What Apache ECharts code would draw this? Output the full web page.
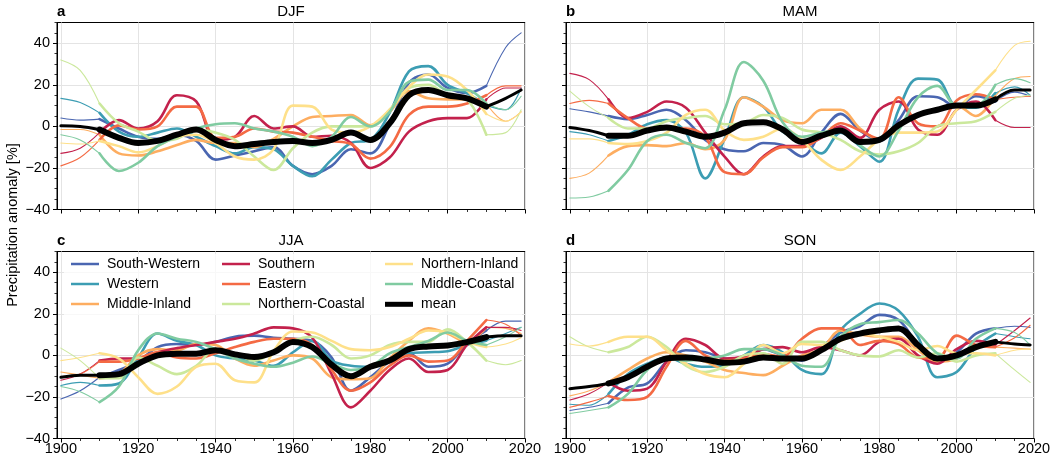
<!DOCTYPE html>
<html>
<head>
<meta charset="utf-8">
<script src="https://cdn.jsdelivr.net/npm/echarts@6/dist/echarts.min.js"></script>
<style>
html,body{margin:0;padding:0;background:#fff;}
#chart{width:1061px;height:464px;}
</style>
</head>
<body>
<div id="chart"></div>
<script>
// ---------- data ----------
const YEARS = [1900,1905,1910,1915,1920,1925,1930,1935,1940,1945,1950,1955,1960,1965,1970,1975,1980,1985,1990,1995,2000,2005,2010,2015,2019];
const X_MAJOR = [1900,1920,1940,1960,1980,2000,2020];
const X_MINOR = [1905,1910,1915,1925,1930,1935,1945,1950,1955,1965,1970,1975,1985,1990,1995,2005,2010,2015];
const Y_MAJOR = [-40,-20,0,20,40];
const Y_MINOR = [-35,-30,-25,-15,-10,-5,5,10,15,25,30,35,45,50];
const REGIONS = ['South-Western','Western','Middle-Inland','Southern','Eastern','Northern-Coastal','Northern-Inland','Middle-Coastal'];
const COLORS = ['#4a66b1','#3c9db3','#fdad60','#c3214c','#f46a44','#cbe89c','#fee08a','#80cba1'];
const SEASONS = ['DJF','MAM','JJA','SON'];
const LETTERS = ['a','b','c','d'];

// DJF
const DJF_SW = [4,3,3.5,-1,-5,-6,-4,-7,-16,-14,-12,-10,-19,-23,-19,-11,-13,1,21,25,18.5,16,19.5,38,45];
const DJF_W  = [13.5,11.5,6.5,-2.5,-5,-3,-1,-5,-9.5,-13,-10,-11,-19,-24,-16,-8,-6.5,6.5,26.5,29,20,16,10,8,18.5];
const DJF_MI = [-1.5,-1.5,-4,-13,-14,-12,-9,-6.5,-8,-8,-10,-6,0,4.5,5,5.5,0.5,7,17,13.5,13,13,11,2.5,7];
const DJF_S  = [-13,-10.5,-3,3,-1,2.5,15,12,-6.5,-5,5,-1,0,-5,-4.5,-8,-20,-15,-2.5,2.5,4,4,13,18.5,18.5];
const DJF_E  = [-19,-15,-6.5,0.5,-1.5,0,9.5,9.5,-5.5,-5,-1,-2.5,-3,-5,-7,-8.5,-15.5,-10,5.5,9.5,9.5,11,15,19.5,19.5];
const DJF_NC = [32,27,11,1.5,-2.5,-7,-6,-1.5,-3,-6.5,-14.5,-21,-10.5,-3,0,0,0,8,18.5,20,15,13,-4,-3,8];
const DJF_NI = [-8,-8.5,-7,-9.5,-12.5,-9.5,-5,-4,-8,-14.5,-16,-11,10,9.5,-1.5,-3,0,8,19,25,24,17.5,6,2.5,7];
const DJF_MC = [-4,-6.5,-13,-21.5,-17.5,-9.5,-5,-1,1,1.5,-1,-2.5,-5,-9.5,-5,4.5,0,7,21.5,22.5,17.5,17.5,11,8,14.5];
const DJF_MEAN = [0.3,0,-1.5,-5.5,-8,-7,-4,-1.5,-6.5,-9.5,-8.5,-7.5,-7,-8,-6.5,-3,-6.5,1.5,15,17.5,15,13.5,9.5,13.5,17.5];

// MAM
const MAM_SW = [8.5,7,5,3.5,5.5,8,3,-6.5,-11,-12,-8,-9,-14.5,-3,6,-2,-7,3,14.5,14,9.5,14.5,12,16.5,14.5];
const MAM_W  = [-2.5,-4,-7,-4,1,3,-3,-25,-6,14,9.5,-2.5,-7,-13,-3,-9.5,-17,8,23,22.5,9.5,9,16,19,15];
const MAM_MI = [-25,-22.5,-14,-9.5,-9,-9.5,-8,-11,-6.5,14,9.5,3,1.5,8,8,-1,-6.5,1,5,8,10,5,14.5,23,24];
const MAM_S  = [25.5,22.5,13,4,7,12,9,-3,-14.5,-23,-14.5,-9.5,-9.5,-5.5,0,-5.5,8,12,-1.5,-4,8,12,3,-0.5,-0.5];
const MAM_E  = [11,12.5,11,4,-1,-1,-1,-5,-22,-23,-15,-10,-10,-5,1.5,-2,-6,14,1.5,0,12.5,15.5,13,14,14.5];
const MAM_NC = [17,9.5,4,-1,-1,2.5,4,5,1,1.5,5.5,4,-1.5,-3,-6.5,-12,-13.5,-12,-8,0,1.5,2.5,7,13.5,15];
const MAM_NI = [-6,-6,-8,-8.5,-7,-3,5.5,8,-2,-6.5,-5,-1,-6.5,-16,-21,-14.5,-6.5,-3,-3,-2.5,8,17.5,27,39,41];
const MAM_MC = [-34.5,-34,-31,-21,-7,-4,-8,-10.5,8,31,22,2,-5,-3,-1.5,-9,-14.5,-2,14,19.5,10,10,20,23,21];
const MAM_MEAN = [-0.5,-2,-4.5,-4.5,-2,-0.5,-2.5,-5,-3,1.5,2,-1.5,-7.5,-4.5,-2,-7.5,-6.5,0.5,5.5,8,10,10,13,17.5,17.5];

// JJA
const JJA_SW = [-21,-17,-10.5,-7,-3,4,5.5,5,6.5,9,9.5,8.5,8,7,-1,-17,-10.5,-3,1,-5.5,-4,5.5,12,16.5,16.5];
const JJA_W  = [-14.5,-13,-14.5,-13.5,-1,10.5,7,5,0,-1.5,-2.5,-5,1.5,7,-2.5,-5,-5.5,-2.5,1,1.5,2,5,7,10.5,13.5];
const JJA_MI = [-8,-9.5,-11,-9,0,3,2.5,5.5,5,-1.5,-5,-2.5,0,-1.5,-10.5,-11.5,-11,-1.5,7,13,10.5,6.5,13.5,13,10.5];
const JJA_S  = [-12,-9,-2.5,-1.5,-1.5,1.5,3.5,5,6.5,8,10.5,13.5,13,8.5,-9,-25,-17,-7,-1.5,-8,-7,5,13.5,13.5,12];
const JJA_E  = [-10.5,-9,-3,-3,-1.5,1.5,-1,-1.5,1,4,6.5,8,8,5,-7,-17,-13,-5,0,-3,-2.5,7,17,15,9.5];
const JJA_NC = [3.5,-2.5,-11,-11,-1,-5,-9,-5,3,1,-2.5,1.5,7,9,5,-1.5,0,5,6.5,6.5,12.5,6.5,-2.5,-4.5,-2.5];
const JJA_NI = [-2.5,-1,1,-1.5,-10.5,-18.5,-15,-5.5,-4,-12,-13,2,11.5,11,7,3,2.5,4,8,12,11,6.5,4,5.5,8.5];
const JJA_MC = [-15,-17.5,-22.5,-15,2.5,10.5,8,6.5,3,-1.5,-4,-5.5,-3.5,-0.5,-4,-7,-5.5,1,4,7,11,7,5,9,13.5];
const JJA_MEAN = [-10.5,-9.5,-9.5,-9,-4,0,0.8,0.8,2.5,0.5,-0.8,1.5,6.5,4,-4.5,-10,-5.5,-2.5,3,4.3,4.8,6.4,8.8,9.5,9.5];

// SON
const SON_SW = [-26.5,-25,-23,-15.5,-13.5,-3,2.5,1.5,-1.5,-2.5,3,0,-2.5,4,11,14,19.5,17,5.5,-2.5,1.5,10.5,13,14,13.5];
const SON_W  = [-23.5,-24,-18.5,-9,-4,-1,-4,-5.5,-5,0,5,1.5,-7,-9,12,20,25,21.5,9,-10.5,-8,4,10.5,9,8];
const SON_MI = [-19.5,-17,-13,-7,-1.5,1.5,0,-3,-7,-8.5,-9.5,-5,0,3,12,10,9,9,2.5,-3,-1.5,5,4,3.5,3];
const SON_S  = [-21.5,-18.5,-13,-17,-16,-3,8,5,-1.5,-0.5,3,4,1.5,4,2.5,0,6.5,8,0,-4,3,7,5,12,18];
const SON_E  = [-25,-22.5,-19.5,-21.5,-20,-5.5,7,0,-2.5,-1.5,0.5,-0.5,8,13,13,5,7,5.5,-1,-1.5,9.5,5,4,8.5,14.5];
const SON_NC = [9,4,1.5,4,9,4,-5,-8,-5.5,0,1,-4,6.5,6.5,2.5,0,-0.5,2.5,-1,1,-3,0,1,-7,-13];
const SON_NI = [5.5,4.5,6.5,9,9,2.5,-4,-9,-10.5,-4,5,1,5.5,5,7,10.5,9,6.5,2.5,4.5,1,1,0,2.5,3];
const SON_MC = [-28,-26.5,-25,-18.5,-7,-1.5,-2.5,-1.5,0,3,3,0,-5,-5.5,9,15,16,17,10.5,1,-1.5,8,13,11,5];
const SON_MEAN = [-16,-15,-13.5,-10.5,-5.5,-1.5,-1,-2,-3.5,-3,-1,-1.5,-1.5,2.5,8,10.5,12,13,5,-1.5,0,4,6.5,5.5,5];

const PANEL_REGIONS = [
  [DJF_SW,DJF_W,DJF_MI,DJF_S,DJF_E,DJF_NC,DJF_NI,DJF_MC],
  [MAM_SW,MAM_W,MAM_MI,MAM_S,MAM_E,MAM_NC,MAM_NI,MAM_MC],
  [JJA_SW,JJA_W,JJA_MI,JJA_S,JJA_E,JJA_NC,JJA_NI,JJA_MC],
  [SON_SW,SON_W,SON_MI,SON_S,SON_E,SON_NC,SON_NI,SON_MC]
];
const PANEL_MEANS = [DJF_MEAN, MAM_MEAN, JJA_MEAN, SON_MEAN];

// ---------- layout ----------
const FONT = 'Liberation Sans, Arial, Helvetica, sans-serif';
const GRID_POS = [
  {left:57, top:22.5}, {left:566, top:22.5},
  {left:57, top:251.5}, {left:566, top:251.5}
];
const GW = 468, GH = 187;
const EDGE_LO = 1910, EDGE_HI = 2010;

function minus(v){ return String(v).replace('-', '\u2212'); }
function plain(v){ return String(v); }

const grids = [], xAxes = [], yAxes = [], series = [];
GRID_POS.forEach((g, i) => {
  grids.push({left:g.left, top:g.top, width:GW, height:GH, show:true,
    borderColor:'#000', borderWidth:1, backgroundColor:'transparent', containLabel:false});
  const bottomRow = i >= 2, leftCol = i % 2 === 0;
  xAxes.push({gridIndex:i, type:'value', min:1899, max:2020, position:'bottom',
    axisLine:{show:true, onZero:false, lineStyle:{color:'#000', width:1}},
    axisTick:{show:true, length:4, customValues:X_MAJOR, lineStyle:{color:'#000', width:1}},
    axisLabel:{show:bottomRow, customValues:X_MAJOR, fontSize:14.5, color:'#000', fontFamily:FONT, margin:3, formatter:plain},
    splitLine:{show:true, lineStyle:{color:'#e4e4e4', width:1}}});
  xAxes.push({gridIndex:i, type:'value', min:1899, max:2020, position:'bottom',
    axisLine:{show:false, onZero:false},
    axisTick:{show:true, length:2.5, customValues:X_MINOR, lineStyle:{color:'#000', width:0.8}},
    axisLabel:{show:false}, splitLine:{show:false}});
  yAxes.push({gridIndex:i, type:'value', min:-40, max:50, position:'left',
    axisLine:{show:true, onZero:false, lineStyle:{color:'#000', width:1}},
    axisTick:{show:true, length:4, customValues:Y_MAJOR, lineStyle:{color:'#000', width:1}},
    axisLabel:{show:leftCol, customValues:Y_MAJOR, fontSize:14.5, color:'#000', fontFamily:FONT, margin:7, formatter:minus},
    splitLine:{show:true, lineStyle:{color:'#e4e4e4', width:1}}});
  yAxes.push({gridIndex:i, type:'value', min:-40, max:50, position:'left',
    axisLine:{show:false, onZero:false},
    axisTick:{show:true, length:2.5, customValues:Y_MINOR, lineStyle:{color:'#000', width:0.8}},
    axisLabel:{show:false}, splitLine:{show:false}});

  const addSeries = (name, vals, color, thinW, thickW, z) => {
    const thin = YEARS.map((y, k) => [y, (y <= EDGE_LO || y >= EDGE_HI) ? vals[k] : null]);
    const thick = YEARS.map((y, k) => [y, (y >= EDGE_LO && y <= EDGE_HI) ? vals[k] : null]);
    [[thin, thinW], [thick, thickW]].forEach(([d, w]) => {
      series.push({type:'line', name:name, xAxisIndex:2*i, yAxisIndex:2*i, data:d,
        symbol:'none', showSymbol:false, smooth:0.35, connectNulls:false,
        lineStyle:{color:color, width:w, cap:'round', join:'round'}, itemStyle:{color:color},
        emphasis:{disabled:true}, silent:true, z:z, animation:false});
    });
  };
  PANEL_REGIONS[i].forEach((vals, r) => addSeries(REGIONS[r], vals, COLORS[r], 1.1, 2.6, 3));
  addSeries('mean', PANEL_MEANS[i], '#000', 3, 6, 5);
});

// ---------- legends (panel c) ----------
function legendCol(names, left, top, h){
  return {show:true, orient:'vertical', left:left, top:top, padding:0, itemGap:4,
    itemWidth:28, itemHeight:h, selectedMode:false, z:6,
    textStyle:{fontSize:14, fontFamily:FONT, color:'#000', lineHeight:16, padding:[0,0,0,3]},
    data:names.map(n => {
      const idx = REGIONS.indexOf(n);
      const c = idx >= 0 ? COLORS[idx] : '#000';
      return {name:n, icon:'rect', itemStyle:{color:c, borderWidth:0}};
    })};
}
const legends = [
  legendCol(REGIONS.slice(0,3), 71, 256, 2.5),
  legendCol(REGIONS.slice(3,6), 222, 256, 2.5),
  legendCol(REGIONS.slice(6,8), 385, 256, 2.5),
  legendCol(['mean'], 385, 296.3, 5)
];

// ---------- text ----------
const graphics = [
  {type:'rect', z:1, silent:true, shape:{x:64, y:254, width:458, height:61},
   style:{fill:'rgba(255,255,255,0.75)'}},
  {type:'text', x:13, y:225, rotation:Math.PI/2, silent:true,
   style:{text:'Precipitation anomaly [%]', fontSize:14.5, fontFamily:FONT, fill:'#000',
          textAlign:'center', textVerticalAlign:'middle'}}
];
GRID_POS.forEach((g, i) => {
  graphics.push({type:'text', x:g.left, y:g.top - 10.5, silent:true,
    style:{text:LETTERS[i], fontSize:15, fontWeight:'bold', fontFamily:FONT, fill:'#000',
           textAlign:'left', textVerticalAlign:'middle'}});
  graphics.push({type:'text', x:g.left + GW/2, y:g.top - 10.5, silent:true,
    style:{text:SEASONS[i], fontSize:15, fontFamily:FONT, fill:'#000',
           textAlign:'center', textVerticalAlign:'middle'}});
});

const chart = echarts.init(document.getElementById('chart'), null, {renderer:'canvas'});
chart.setOption({
  animation:false,
  backgroundColor:'#fff',
  grid:grids, xAxis:xAxes, yAxis:yAxes, series:series,
  legend:legends, graphic:graphics
});
</script>
</body>
</html>
